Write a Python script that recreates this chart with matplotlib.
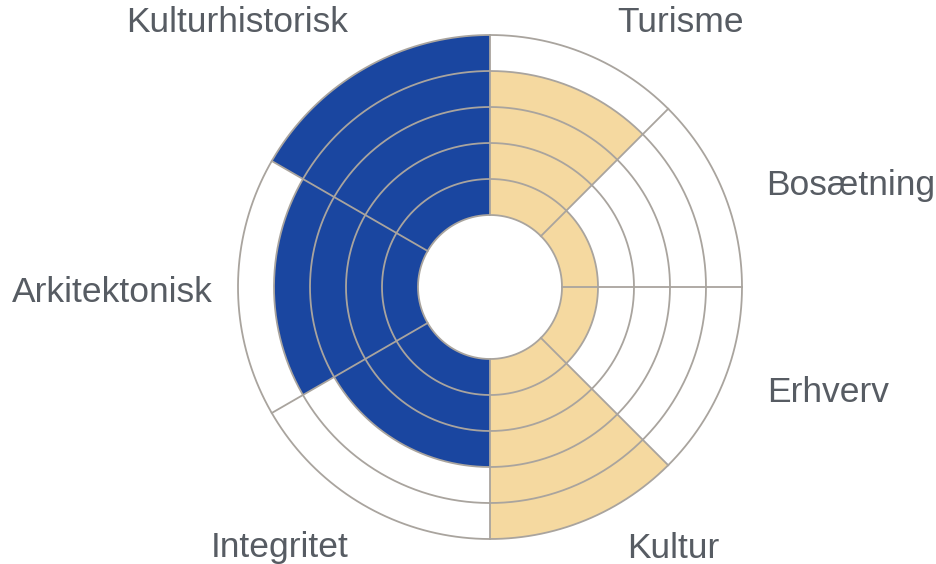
import numpy as np
import matplotlib
matplotlib.use('Agg')
import matplotlib.pyplot as plt

# Data: sectors clockwise from 12 o'clock
categories = ['Turisme', 'Bosætning', 'Erhverv', 'Kultur',
              'Integritet', 'Arkitektonisk', 'Kulturhistorisk']
spans_deg = [45, 45, 45, 45, 60, 60, 60]
values = [4, 1, 1, 5, 3, 4, 5]
groups = ['tan', 'tan', 'tan', 'tan', 'blue', 'blue', 'blue']
n_rings = 5
hole = 2

colors = {'tan': '#f5d9a0', 'blue': '#1a46a0'}
grid_col = '#a9a49e'
text_col = '#575c63'

fig = plt.figure(figsize=(9.36, 5.64), dpi=100)
cx, cy, R = 490, 287, 252
ax = fig.add_axes([(cx - R) / 936, (564 - cy - R) / 564, 2 * R / 936, 2 * R / 564],
                  projection='polar')
ax.set_theta_zero_location('N')
ax.set_theta_direction(-1)
ax.set_ylim(0, hole + n_rings)
ax.grid(False)
ax.set_xticks([])
ax.set_yticks([])
ax.spines['polar'].set_visible(False)
ax.patch.set_alpha(0)

starts = np.radians(np.concatenate([[0], np.cumsum(spans_deg)[:-1]]))
widths = np.radians(spans_deg)
ax.bar(starts, values, width=widths, bottom=hole, align='edge',
       color=[colors[g] for g in groups], edgecolor='none', zorder=1)

# ring grid
t = np.linspace(0, 2 * np.pi, 720)
for r in range(hole, hole + n_rings + 1):
    ax.plot(t, np.full_like(t, r), color=grid_col, lw=1.3, zorder=2, clip_on=False)
# radial boundaries
for a in starts:
    ax.plot([a, a], [hole, hole + n_rings], color=grid_col, lw=1.3, zorder=2, clip_on=False)

# labels
label_pos = {
    'Kulturhistorisk': (237, 22),
    'Turisme': (681, 22),
    'Bosætning': (851, 186),
    'Arkitektonisk': (112, 292),
    'Erhverv': (828, 392),
    'Integritet': (280, 548),
    'Kultur': (673, 548),
}
for name in categories:
    x, y = label_pos[name]
    fig.text(x / 936, 1 - y / 564, name, ha='center', va='center',
             fontsize=25.5, color=text_col, family='Liberation Sans')

fig.savefig('out.png', dpi=100)
